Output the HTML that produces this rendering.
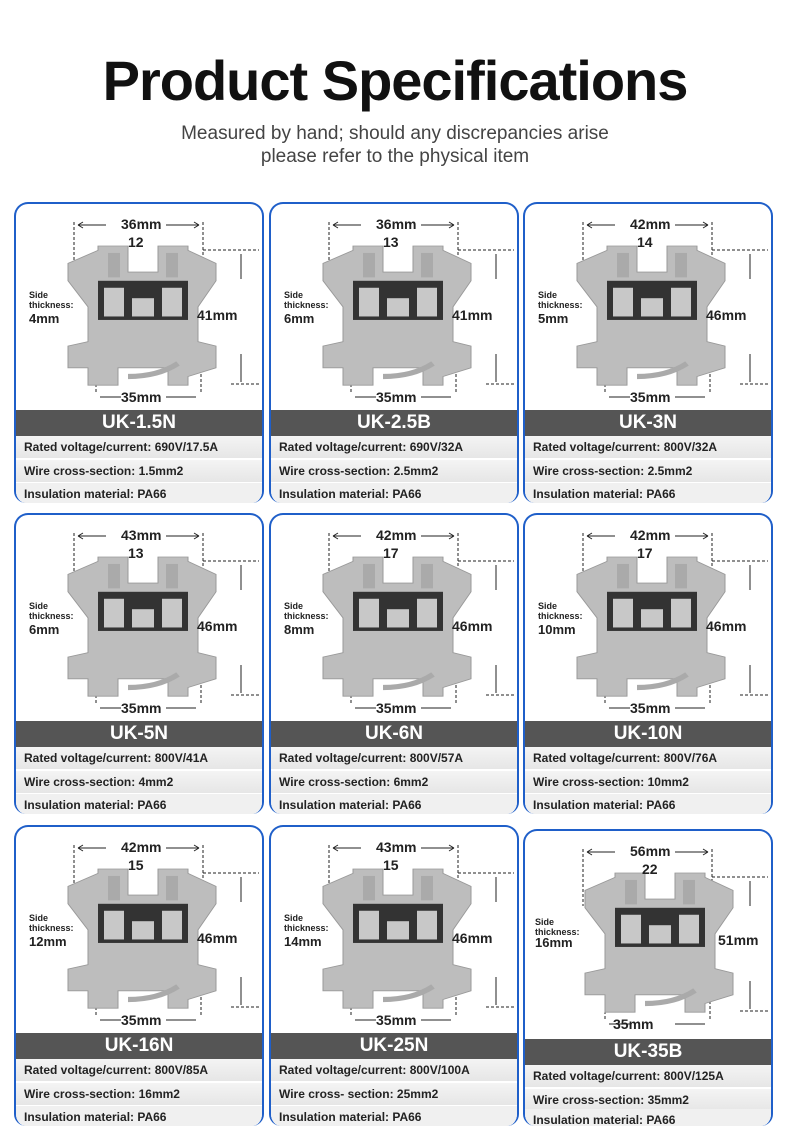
<!DOCTYPE html><html><head><meta charset="utf-8"><style>
body{margin:0;width:790px;height:1135px;background:#fff;position:relative;font-family:"Liberation Sans",sans-serif;overflow:hidden}
h1{position:absolute;top:48px;left:0;width:790px;text-align:center;margin:0;font-size:56px;font-weight:bold;color:#111;letter-spacing:-1px}
.sub{position:absolute;top:122px;left:0;width:790px;text-align:center;font-size:19px;color:#444;line-height:23px}
.card{position:absolute;width:246px;height:299px;border:2px solid #1f5fc9;border-bottom:none;border-radius:14px 14px 12px 12px;background:#fff;overflow:hidden}
.t{position:absolute;font-weight:bold;color:#222}
.bar{position:absolute;left:0;top:206px;width:246px;height:26px;background:#555;color:#fff;font-weight:bold;font-size:19px;text-align:center;line-height:26px}
.r{position:absolute;left:0;width:246px;height:22px;background:linear-gradient(#f4f4f4,#e6e6e6);font-size:12px;font-weight:bold;color:#222;line-height:22px;padding-left:8px;box-sizing:border-box}
svg{position:absolute;left:0;top:0}
</style></head><body>
<h1>Product Specifications</h1>
<div class="sub">Measured by hand; should any discrepancies arise<br>please refer to the physical item</div>
<svg width="0" height="0"><defs>
<g id="tb">
<path d="M20,110 L20,70 L0,40 L0,20 L30,5 L30,0 L60,0 L60,30 L90,30 L90,0 L120,0 L120,5 L148,20 L148,40 L130,70 L130,110 L148,115 L148,140 L120,150 L120,160 L100,160 L100,140 L50,140 L50,160 L20,160 L20,140 L0,140 L0,115 Z" fill="#bdbdbd" stroke="#999"/>
<rect x="30" y="40" width="90" height="45" fill="#333"/>
<rect x="36" y="48" width="20" height="33" fill="#c8c8c8"/><rect x="94" y="48" width="20" height="33" fill="#c8c8c8"/><rect x="64" y="60" width="22" height="21" fill="#c8c8c8"/>
<rect x="40" y="8" width="12" height="28" fill="#aaa"/><rect x="98" y="8" width="12" height="28" fill="#aaa"/>
<path d="M60,150 Q90,150 110,135" stroke="#aaa" stroke-width="6" fill="none"/>
</g>
<g id="dm" stroke="#222" stroke-width="1" fill="none">
<path d="M58,18 V75 M187,18 V75 M187,46 H243 M215,180 H243 M80,140 V190 M185,140 V190" stroke-dasharray="3,2"/>
<path d="M62,21 H90 M150,21 H183 M62,21 l5,-3 M62,21 l5,3 M183,21 l-5,-3 M183,21 l-5,3 M225,50 V75 M225,150 V178 M84,193 H105 M150,193 H180"/>
</g>
</defs></svg>

<!-- Row 1 -->
<div class="card" style="left:14px;top:202px"><svg width="246" height="206"><use href="#dm"/><use href="#tb" transform="translate(52,42) scale(1,0.87)"/></svg>
<div class="t" style="left:105px;top:12px;font-size:14px">36mm</div><div class="t" style="left:112px;top:30px;font-size:14px">12</div>
<div class="t" style="left:13px;top:86px;font-size:9px;line-height:10px">Side<br>thickness:</div><div class="t" style="left:13px;top:107px;font-size:13px">4mm</div>
<div class="t" style="left:181px;top:103px;font-size:14px">41mm</div><div class="t" style="left:105px;top:185px;font-size:14px">35mm</div>
<div class="bar">UK-1.5N</div><div class="r" style="top:232px">Rated voltage/current: 690V/17.5A</div><div class="r" style="top:256px">Wire cross-section: 1.5mm2</div><div class="r" style="top:279px;background:#f0f0f0">Insulation material: PA66</div></div>

<div class="card" style="left:269px;top:202px"><svg width="246" height="206"><use href="#dm"/><use href="#tb" transform="translate(52,42) scale(1,0.87)"/></svg>
<div class="t" style="left:105px;top:12px;font-size:14px">36mm</div><div class="t" style="left:112px;top:30px;font-size:14px">13</div>
<div class="t" style="left:13px;top:86px;font-size:9px;line-height:10px">Side<br>thickness:</div><div class="t" style="left:13px;top:107px;font-size:13px">6mm</div>
<div class="t" style="left:181px;top:103px;font-size:14px">41mm</div><div class="t" style="left:105px;top:185px;font-size:14px">35mm</div>
<div class="bar">UK-2.5B</div><div class="r" style="top:232px">Rated voltage/current: 690V/32A</div><div class="r" style="top:256px">Wire cross-section: 2.5mm2</div><div class="r" style="top:279px;background:#f0f0f0">Insulation material: PA66</div></div>

<div class="card" style="left:523px;top:202px"><svg width="246" height="206"><use href="#dm"/><use href="#tb" transform="translate(52,42) scale(1,0.87)"/></svg>
<div class="t" style="left:105px;top:12px;font-size:14px">42mm</div><div class="t" style="left:112px;top:30px;font-size:14px">14</div>
<div class="t" style="left:13px;top:86px;font-size:9px;line-height:10px">Side<br>thickness:</div><div class="t" style="left:13px;top:107px;font-size:13px">5mm</div>
<div class="t" style="left:181px;top:103px;font-size:14px">46mm</div><div class="t" style="left:105px;top:185px;font-size:14px">35mm</div>
<div class="bar">UK-3N</div><div class="r" style="top:232px">Rated voltage/current: 800V/32A</div><div class="r" style="top:256px">Wire cross-section: 2.5mm2</div><div class="r" style="top:279px;background:#f0f0f0">Insulation material: PA66</div></div>

<!-- Row 2 -->
<div class="card" style="left:14px;top:513px"><svg width="246" height="206"><use href="#dm"/><use href="#tb" transform="translate(52,42) scale(1,0.87)"/></svg>
<div class="t" style="left:105px;top:12px;font-size:14px">43mm</div><div class="t" style="left:112px;top:30px;font-size:14px">13</div>
<div class="t" style="left:13px;top:86px;font-size:9px;line-height:10px">Side<br>thickness:</div><div class="t" style="left:13px;top:107px;font-size:13px">6mm</div>
<div class="t" style="left:181px;top:103px;font-size:14px">46mm</div><div class="t" style="left:105px;top:185px;font-size:14px">35mm</div>
<div class="bar">UK-5N</div><div class="r" style="top:232px">Rated voltage/current: 800V/41A</div><div class="r" style="top:256px">Wire cross-section: 4mm2</div><div class="r" style="top:279px;background:#f0f0f0">Insulation material: PA66</div></div>

<div class="card" style="left:269px;top:513px"><svg width="246" height="206"><use href="#dm"/><use href="#tb" transform="translate(52,42) scale(1,0.87)"/></svg>
<div class="t" style="left:105px;top:12px;font-size:14px">42mm</div><div class="t" style="left:112px;top:30px;font-size:14px">17</div>
<div class="t" style="left:13px;top:86px;font-size:9px;line-height:10px">Side<br>thickness:</div><div class="t" style="left:13px;top:107px;font-size:13px">8mm</div>
<div class="t" style="left:181px;top:103px;font-size:14px">46mm</div><div class="t" style="left:105px;top:185px;font-size:14px">35mm</div>
<div class="bar">UK-6N</div><div class="r" style="top:232px">Rated voltage/current: 800V/57A</div><div class="r" style="top:256px">Wire cross-section: 6mm2</div><div class="r" style="top:279px;background:#f0f0f0">Insulation material: PA66</div></div>

<div class="card" style="left:523px;top:513px"><svg width="246" height="206"><use href="#dm"/><use href="#tb" transform="translate(52,42) scale(1,0.87)"/></svg>
<div class="t" style="left:105px;top:12px;font-size:14px">42mm</div><div class="t" style="left:112px;top:30px;font-size:14px">17</div>
<div class="t" style="left:13px;top:86px;font-size:9px;line-height:10px">Side<br>thickness:</div><div class="t" style="left:13px;top:107px;font-size:13px">10mm</div>
<div class="t" style="left:181px;top:103px;font-size:14px">46mm</div><div class="t" style="left:105px;top:185px;font-size:14px">35mm</div>
<div class="bar">UK-10N</div><div class="r" style="top:232px">Rated voltage/current: 800V/76A</div><div class="r" style="top:256px">Wire cross-section: 10mm2</div><div class="r" style="top:279px;background:#f0f0f0">Insulation material: PA66</div></div>

<!-- Row 3 -->
<div class="card" style="left:14px;top:825px"><svg width="246" height="206"><use href="#dm"/><use href="#tb" transform="translate(52,42) scale(1,0.87)"/></svg>
<div class="t" style="left:105px;top:12px;font-size:14px">42mm</div><div class="t" style="left:112px;top:30px;font-size:14px">15</div>
<div class="t" style="left:13px;top:86px;font-size:9px;line-height:10px">Side<br>thickness:</div><div class="t" style="left:13px;top:107px;font-size:13px">12mm</div>
<div class="t" style="left:181px;top:103px;font-size:14px">46mm</div><div class="t" style="left:105px;top:185px;font-size:14px">35mm</div>
<div class="bar">UK-16N</div><div class="r" style="top:232px">Rated voltage/current: 800V/85A</div><div class="r" style="top:256px">Wire cross-section: 16mm2</div><div class="r" style="top:279px;background:#f0f0f0">Insulation material: PA66</div></div>

<div class="card" style="left:269px;top:825px"><svg width="246" height="206"><use href="#dm"/><use href="#tb" transform="translate(52,42) scale(1,0.87)"/></svg>
<div class="t" style="left:105px;top:12px;font-size:14px">43mm</div><div class="t" style="left:112px;top:30px;font-size:14px">15</div>
<div class="t" style="left:13px;top:86px;font-size:9px;line-height:10px">Side<br>thickness:</div><div class="t" style="left:13px;top:107px;font-size:13px">14mm</div>
<div class="t" style="left:181px;top:103px;font-size:14px">46mm</div><div class="t" style="left:105px;top:185px;font-size:14px">35mm</div>
<div class="bar">UK-25N</div><div class="r" style="top:232px">Rated voltage/current: 800V/100A</div><div class="r" style="top:256px">Wire cross- section: 25mm2</div><div class="r" style="top:279px;background:#f0f0f0">Insulation material: PA66</div></div>

<div class="card" style="left:523px;top:829px;height:295px"><svg width="246" height="206"><use href="#dm"/><use href="#tb" transform="translate(60,42) scale(1,0.87)"/></svg>
<div class="t" style="left:105px;top:12px;font-size:14px">56mm</div><div class="t" style="left:117px;top:30px;font-size:14px">22</div>
<div class="t" style="left:10px;top:86px;font-size:9px;line-height:10px">Side<br>thickness:</div><div class="t" style="left:10px;top:104px;font-size:13px">16mm</div>
<div class="t" style="left:193px;top:101px;font-size:14px">51mm</div><div class="t" style="left:88px;top:185px;font-size:14px">35mm</div>
<div class="bar" style="top:208px">UK-35B</div><div class="r" style="top:234px">Rated voltage/current: 800V/125A</div><div class="r" style="top:258px">Wire cross-section: 35mm2</div><div class="r" style="top:278px;background:#f0f0f0">Insulation material: PA66</div></div>
</body></html>
